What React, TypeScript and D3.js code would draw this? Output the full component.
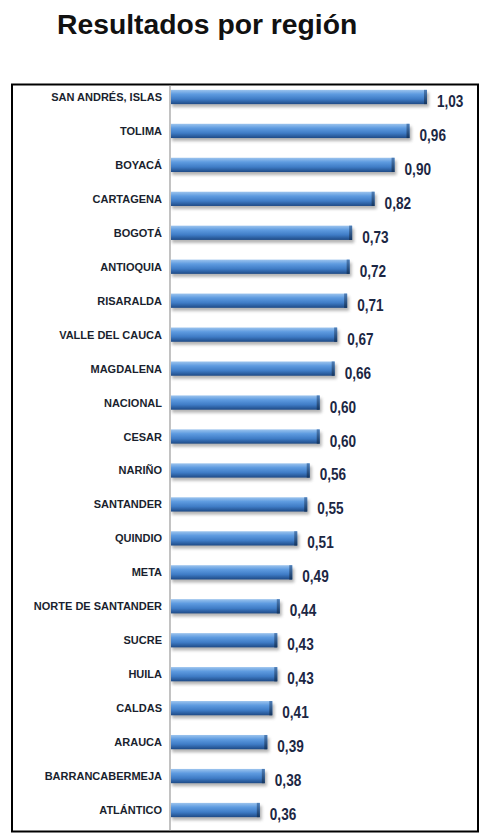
import React from 'react';
import * as d3 from 'd3';

// categorías y valores (de arriba hacia abajo)
const regiones = [
  'SAN ANDRÉS, ISLAS', 'TOLIMA', 'BOYACÁ', 'CARTAGENA', 'BOGOTÁ', 'ANTIOQUIA',
  'RISARALDA', 'VALLE DEL CAUCA', 'MAGDALENA', 'NACIONAL', 'CESAR', 'NARIÑO',
  'SANTANDER', 'QUINDIO', 'META', 'NORTE DE SANTANDER', 'SUCRE', 'HUILA',
  'CALDAS', 'ARAUCA', 'BARRANCABERMEJA', 'ATLÁNTICO',
];
const valores = [
  1.03, 0.96, 0.9, 0.82, 0.73, 0.72, 0.71, 0.67, 0.66, 0.6, 0.6, 0.56,
  0.55, 0.51, 0.49, 0.44, 0.43, 0.43, 0.41, 0.39, 0.38, 0.36,
];

const W = 481;
const H = 836;
const fmt = (v: number) => d3.format('.2f')(v).replace('.', ',');

const App = () => {
  const data = regiones.map((r, i) => ({ region: r, value: valores[i] }));

  const x = d3.scaleLinear().domain([0, 1.2]).range([170, 170 + 1.2 * 249.5]);
  const y = d3.scaleBand().domain(regiones).range([80, 827]).paddingInner(0.58).paddingOuter(0.29);
  const bh = y.bandwidth();

  return (
    <svg width={W} height={H} style={{ position: 'absolute', left: 0, top: 0, background: '#fff' }}>
      <defs>
        <linearGradient id="barGrad" x1="0" y1="0" x2="0" y2="1">
          <stop offset="0%" stopColor="#9cc4ee" />
          <stop offset="30%" stopColor="#5e9be0" />
          <stop offset="65%" stopColor="#3f7cc6" />
          <stop offset="100%" stopColor="#1e4a86" />
        </linearGradient>
        <linearGradient id="capGrad" x1="0" y1="0" x2="0" y2="1">
          <stop offset="0%" stopColor="#4f7fb8" />
          <stop offset="100%" stopColor="#14355f" />
        </linearGradient>
        <filter id="sombra" x="-10%" y="-50%" width="120%" height="200%">
          <feGaussianBlur stdDeviation="1.5" />
        </filter>
      </defs>

      {/* título */}
      <text x={57} y={34} fontFamily="'Liberation Sans', Arial, sans-serif" fontWeight="bold"
        fontSize={28.3} fill="#111">Resultados por región</text>

      {/* marco */}
      <rect x={12} y={84.5} width={466} height={747} fill="none" stroke="#000" strokeWidth={2} />

      {/* eje */}
      <line x1={x(0)} x2={x(0)} y1={85.5} y2={830.5} stroke="#9a9a9a" strokeWidth={1.2} />

      {data.map(d => {
        const y0 = y(d.region)!;
        const xe = x(d.value);
        return (
          <g key={d.region}>
            <rect x={x(0) + 2} y={y0 + 3} width={xe - x(0)} height={bh} fill="#777" opacity={0.55} filter="url(#sombra)" />
            <rect x={x(0) + 1} y={y0} width={xe - x(0) - 1} height={bh} fill="url(#barGrad)" />
            <rect x={xe - 3} y={y0} width={3} height={bh} fill="url(#capGrad)" />
            <text x={162} y={y0 + bh / 2 + 4} textAnchor="end"
              fontFamily="'Liberation Sans', Arial, sans-serif" fontWeight="bold" fontSize={11}
              fill="#1a1f2e">{d.region}</text>
            <text transform={`translate(${xe + 10},${y0 + bh / 2 + 10}) scale(0.8,1)`} textAnchor="start"
              fontFamily="'Liberation Sans', Arial, sans-serif"
              fontWeight="bold" fontSize={17} fill="#1c2744">{fmt(d.value)}</text>
          </g>
        );
      })}
    </svg>
  );
};

export default App;
